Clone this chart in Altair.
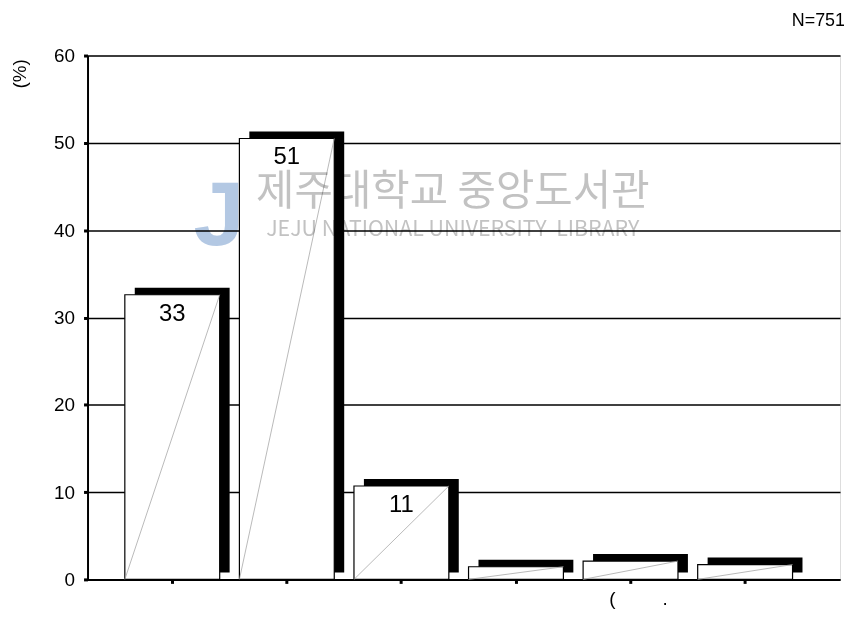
import json
import altair as alt
import pandas as pd

# ---------------- data ----------------
categories = ["k1", "k2", "k3", "k4", "k5", "k6"]
percent = [32.6, 50.5, 10.7, 1.45, 2.1, 1.7]
bar_labels = ["33", "51", "11", "", "", ""]
tick_labels = ["", "", "", "", "(\u2002\u2002\u2002\u2002\u2002.", ""]
y_ticks = [0, 10, 20, 30, 40, 50, 60]
y_title = "(%)"
note = "N=751"

wm_texts = ["제주대학교 중앙도서관", "JEJU NATIONAL UNIVERSITY\u00a0 LIBRARY"]
wm_levels = [44.4, 40.0]
wm_sizes = [42, 21.5]

FONT = "Liberation Sans"

df = pd.DataFrame({"key": categories, "value": percent, "label": bar_labels})
df["zero"] = 0.0

wm = pd.DataFrame({"key": ["k3", "k3"], "value": wm_levels, "txt": wm_texts,
                   "fs": wm_sizes})

logo = pd.DataFrame({"key": ["k2"], "value": [38.3], "txt": ["J"]})

# ---------------- scales & axes ----------------
xscale = alt.Scale(domain=categories, paddingInner=0.172, paddingOuter=0.37, align=0.44)
yscale = alt.Scale(domain=[0, 60], nice=False)

label_expr = f"{json.dumps(tick_labels, ensure_ascii=False)}[indexof({json.dumps(categories)}, datum.value)]"

xaxis = alt.Axis(
    title=None, labelExpr=label_expr, labelAngle=0, grid=False,
    domainColor="black", domainWidth=2, tickColor="black", tickSize=4, tickWidth=3,
    labelFont=FONT, labelFontSize=19, labelColor="black", labelPadding=6, labelOffset=8,
)
yaxis = alt.Axis(
    title=y_title, values=y_ticks, grid=True, gridColor="black", gridWidth=1.5,
    domainColor="black", domainWidth=2, tickColor="black", tickSize=4, tickWidth=3,
    labelFont=FONT, labelFontSize=19, labelColor="black", labelPadding=9,
    titleFont=FONT, titleFontSize=19, titleFontWeight="normal", titleColor="black",
    titleX=-68, titleY=18, titleAlign="center", titleBaseline="middle",
)


def X(**kw):
    return alt.X("key:N", scale=xscale, axis=xaxis, **kw)


def Y(field="value:Q"):
    return alt.Y(field, scale=yscale, axis=yaxis)


base = alt.Chart(df)

shadow = base.mark_bar(color="black", xOffset=10, yOffset=-7, y2Offset=-5).encode(
    x=X(), y=Y()
)
white = base.mark_bar(fill="white", stroke="black", strokeWidth=1.2).encode(
    x=X(), y=Y()
)
diag = base.mark_rule(color="#a8a8a8", strokeWidth=0.8).encode(
    x=X(bandPosition=0), x2=alt.X2("key", bandPosition=1),
    y=Y("zero:Q"), y2=alt.Y2("value")
)
labels = base.mark_text(font=FONT, fontSize=24, baseline="middle", dy=19, color="black").encode(
    x=X(), y=Y(), text="label:N"
)

watermark = alt.Chart(wm).mark_text(
    baseline="middle", align="center", color="#c2c2c2", blend="multiply",
    font="Noto Sans CJK KR", dx=4
).encode(
    x=X(bandPosition=1), y=Y(), text="txt:N",
    size=alt.Size("fs:Q", scale=None, legend=None),
)

logo_j = alt.Chart(logo).mark_text(
    baseline="alphabetic", align="right", color="#b3c8e3", blend="multiply",
    font=FONT, fontWeight="bold", fontSize=92, dx=5
).encode(x=X(bandPosition=0), y=Y(), text="txt:N")

chart = alt.layer(shadow, white, diag, labels, watermark, logo_j).properties(
    width=757, height=527,
    autosize=alt.AutoSizeParams(type="none"),
    padding={"left": 80, "top": 46, "right": 4, "bottom": 36},
    title=alt.TitleParams(note, anchor="end", fontSize=18, font=FONT, fontWeight="normal",
                          color="black", offset=17, dx=5),
).configure_view(stroke="black", strokeWidth=2).configure(background="white")

chart.save("out.html", embed_options={"renderer": "svg", "actions": False})
